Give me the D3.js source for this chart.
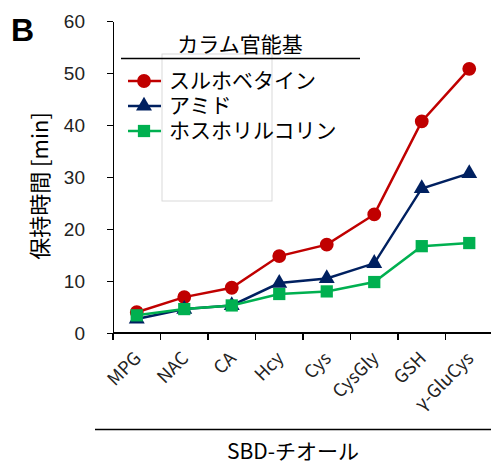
<!DOCTYPE html>
<html>
<head>
<meta charset="utf-8">
<script src="https://cdn.jsdelivr.net/npm/d3@7"></script>
<style>
  body { margin: 0; background: #fff; }
  svg { font-family: "Noto Sans CJK JP", "Noto Sans", sans-serif; }
  .axis path, .axis line { stroke: #000; stroke-width: 1.3; shape-rendering: crispEdges; }
  .axis text { font-size: 18px; fill: #222; }
</style>
</head>
<body>
<div id="chart"></div>
<script>
const categories = ["MPG", "NAC", "CA", "Hcy", "Cys", "CysGly", "GSH", "γ-GluCys"];
const sulfobetaine = [4.0, 6.9, 8.7, 14.8, 17.0, 22.8, 40.7, 50.8];
const amide = [2.7, 4.6, 5.3, 9.6, 10.5, 13.4, 27.8, 30.7];
const phosphorylcholine = [3.4, 4.6, 5.3, 7.5, 8.0, 9.8, 16.7, 17.3];
const yTicks = [0, 10, 20, 30, 40, 50, 60];

const series = [
  { name: "スルホベタイン", values: sulfobetaine, color: "#C00000", shape: d3.symbolCircle, size: 150 },
  { name: "アミド", values: amide, color: "#002060", shape: d3.symbolTriangle, size: 110 },
  { name: "ホスホリルコリン", values: phosphorylcholine, color: "#00B050", shape: d3.symbolSquare, size: 150 }
];

const W = 491, H = 467;
const svg = d3.select("#chart").append("svg").attr("width", W).attr("height", H);

const x = d3.scaleBand().domain(categories).range([113, 493]);
const y = d3.scaleLinear().domain([0, 60]).range([333, 21]);

// faint leftover box from the original figure
svg.append("rect")
  .attr("x", 162).attr("y", 54).attr("width", 110).attr("height", 147)
  .attr("fill", "none").attr("stroke", "#d9d9d9").attr("stroke-width", 1);

// axes
const yAxis = svg.append("g").attr("class", "axis")
  .attr("transform", "translate(113,0)")
  .call(d3.axisLeft(y).tickValues(yTicks).tickSize(6).tickPadding(22).tickSizeOuter(0));
yAxis.selectAll("text").style("font-size", "19px");

const xAxis = svg.append("g").attr("class", "axis")
  .attr("transform", "translate(0,333)");
xAxis.append("line").attr("x1", 113).attr("x2", 491).attr("y1", 0).attr("y2", 0);
xAxis.selectAll(".tk")
  .data(d3.range(categories.length + 1))
  .enter().append("line")
  .attr("x1", i => 113 + i * x.step())
  .attr("x2", i => 113 + i * x.step())
  .attr("y1", 0).attr("y2", 7);
xAxis.selectAll(".lbl")
  .data(categories)
  .enter().append("text")
  .attr("transform", d => `translate(${x(d) + x.bandwidth() / 2 + 1},${22}) rotate(-45)`)
  .attr("text-anchor", "end")
  .attr("dy", "0.35em")
  .text(d => d);

// lines and markers
const line = d3.line()
  .x((d, i) => x(categories[i]) + x.bandwidth() / 2)
  .y(d => y(d));

series.forEach(s => {
  svg.append("path")
    .datum(s.values)
    .attr("fill", "none")
    .attr("stroke", s.color)
    .attr("stroke-width", 2.5)
    .attr("d", line);
  svg.selectAll(null)
    .data(s.values)
    .enter().append("path")
    .attr("transform", (d, i) => `translate(${x(categories[i]) + x.bandwidth() / 2},${y(d)})`)
    .attr("d", d3.symbol().type(s.shape).size(s.size))
    .attr("fill", s.color);
});

// legend
svg.append("text")
  .attr("x", 240).attr("y", 52)
  .attr("text-anchor", "middle")
  .style("font-size", "21px")
  .text("カラム官能基");
svg.append("line")
  .attr("x1", 121).attr("x2", 360).attr("y1", 58.5).attr("y2", 58.5)
  .attr("stroke", "#000").attr("stroke-width", 1.3);

const legend = svg.selectAll(".legend")
  .data(series)
  .enter().append("g")
  .attr("transform", (d, i) => `translate(0,${81 + i * 25})`);
legend.append("line")
  .attr("x1", 128).attr("x2", 161)
  .attr("stroke", d => d.color).attr("stroke-width", 2.5);
legend.append("path")
  .attr("transform", "translate(144,0)")
  .attr("d", d => d3.symbol().type(d.shape).size(d.size)())
  .attr("fill", d => d.color);
legend.append("text")
  .attr("x", 169).attr("y", 0).attr("dy", "0.35em")
  .style("font-size", "21px")
  .text(d => d.name);

// bottom label group
svg.append("line")
  .attr("x1", 95).attr("x2", 491).attr("y1", 429.5).attr("y2", 429.5)
  .attr("stroke", "#000").attr("stroke-width", 1.3);
svg.append("text")
  .attr("x", 293).attr("y", 459)
  .attr("text-anchor", "middle")
  .style("font-size", "21px")
  .text("SBD-チオール");

// y title
svg.append("text")
  .attr("transform", "translate(48,186) rotate(-90)")
  .attr("text-anchor", "middle")
  .style("font-size", "22px")
  .text("保持時間 [min]");

// panel letter
svg.append("text")
  .attr("x", 11).attr("y", 41)
  .style("font-size", "32px")
  .style("font-weight", "bold")
  .style("font-family", "'Liberation Sans', Arial, sans-serif")
  .text("B");
</script>
</body>
</html>
